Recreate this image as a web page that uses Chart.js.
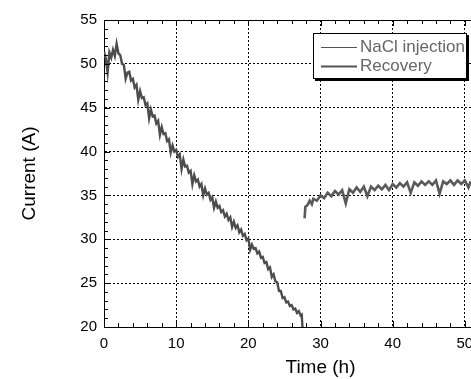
<!DOCTYPE html>
<html>
<head>
<meta charset="utf-8">
<script src="https://cdn.jsdelivr.net/npm/chart.js@4.4.1/dist/chart.umd.min.js"></script>
<style>
  html, body { margin: 0; padding: 0; background: #fff; overflow: hidden; }
  #wrap { width: 537px; height: 379px; }
</style>
</head>
<body>
<div id="wrap"><canvas id="chart" width="537" height="379"></canvas></div>
<script>
// NaCl injection run (h, A)
const naclTime = [
  0, 0.25, 0.5, 0.75, 1, 1.25, 1.5, 1.75, 2, 2.25, 2.5, 2.75, 3, 3.25, 3.5, 3.75,
  4, 4.25, 4.5, 4.75, 5, 5.25, 5.5, 5.75, 6, 6.25, 6.5, 6.75, 7, 7.25, 7.5, 7.75,
  8, 8.25, 8.5, 8.75, 9, 9.25, 9.5, 9.75, 10, 10.25, 10.5, 10.75, 11, 11.25, 11.5, 11.75,
  12, 12.25, 12.5, 12.75, 13, 13.25, 13.5, 13.75, 14, 14.25, 14.5, 14.75, 15, 15.25, 15.5, 15.75,
  16, 16.25, 16.5, 16.75, 17, 17.25, 17.5, 17.75, 18, 18.25, 18.5, 18.75, 19, 19.25, 19.5, 19.75,
  20, 20.25, 20.5, 20.75, 21, 21.25, 21.5, 21.75, 22, 22.25, 22.5, 22.75, 23, 23.25, 23.5, 23.75,
  24, 24.25, 24.5, 24.75, 25, 25.25, 25.5, 25.75, 26, 26.25, 26.5, 26.75, 27, 27.25, 27.4, 27.5
];
const naclCurrent = [
  51.4, 50.6, 49.0, 51.3, 50.7, 51.6, 50.9, 52.3, 51.2, 51.0, 50.0, 49.9, 48.3, 49.0, 49.1, 48.1,
  48.3, 47.3, 47.6, 45.9, 46.9, 46.1, 46.2, 45.3, 45.5, 43.8, 44.8, 44.0, 44.1, 43.2, 43.5, 41.9,
  42.8, 42.0, 42.1, 41.2, 41.4, 39.9, 40.7, 40.0, 40.2, 39.4, 39.7, 38.0, 39.1, 38.3, 38.4, 37.6,
  37.8, 36.3, 37.3, 36.6, 36.8, 36.0, 36.3, 35.0, 35.8, 35.1, 35.3, 34.5, 34.8, 33.6, 34.3, 33.6,
  33.8, 33.1, 33.3, 32.6, 32.9, 32.2, 32.5, 31.4, 32.0, 31.3, 31.6, 30.8, 31.1, 30.4, 30.6, 29.9,
  30.1, 28.8, 29.4, 28.9, 29.0, 28.4, 28.6, 27.9, 28.0, 27.3, 27.4, 26.6, 26.8, 25.7, 26.0, 25.2,
  25.1, 24.1, 24.1, 23.3, 23.4, 22.8, 22.9, 22.4, 22.5, 22.0, 22.1, 21.6, 21.8, 21.3, 21.4, 20.0
];

// Recovery run (h, A)
const recTime = [
  27.8, 27.9, 28.2, 28.5, 28.8, 29, 29.5, 30, 30.5, 31, 31.5, 32, 32.5, 33, 33.5, 34,
  34.5, 35, 35.5, 36, 36.5, 37, 37.5, 38, 38.5, 39, 39.5, 40, 40.5, 41, 41.5, 42,
  42.5, 43, 43.5, 44, 44.5, 45, 45.5, 46, 46.5, 47, 47.5, 48, 48.5, 49, 49.5, 50,
  50.5, 50.8
];
const recCurrent = [
  32.4, 33.7, 33.9, 34.4, 34.0, 34.6, 34.4, 35.0, 34.7, 35.3, 34.9, 35.5, 35.1, 35.6, 34.1, 35.7,
  35.3, 35.9, 35.4, 36.0, 34.9, 36.0, 35.6, 36.1, 35.7, 36.2, 35.6, 36.3, 35.9, 36.4, 36.0, 36.5,
  35.3, 36.5, 36.1, 36.6, 36.2, 36.6, 36.2, 36.7, 35.2, 36.6, 36.3, 36.7, 36.2, 36.7, 36.3, 36.7,
  35.9, 36.6
];

const seriesNames = ['NaCl injection', 'Recovery'];
const xTicks = [0, 10, 20, 30, 40, 50, 60];
const yTicks = [20, 25, 30, 35, 40, 45, 50, 55];

Chart.defaults.font.family = "'Liberation Sans', Arial, sans-serif";
Chart.defaults.color = '#000';

const toPoints = (xs, ys) => xs.map((x, i) => ({ x, y: ys[i] }));

// inward ticks + top frame line + boxed legend
const framePlugin = {
  id: 'frame',
  afterDatasetsDraw(chart) {
    const { ctx, chartArea: a, scales: { x, y } } = chart;
    ctx.save();
    ctx.strokeStyle = '#000';
    ctx.lineWidth = 1;
    ctx.beginPath();
    ctx.moveTo(a.left, a.top + 0.5);
    ctx.lineTo(a.right, a.top + 0.5);
    for (let v = 20; v <= 55; v += 1) {
      const py = Math.round(y.getPixelForValue(v)) + 0.5;
      const len = v % 5 === 0 ? 6 : 4;
      ctx.moveTo(a.left, py);
      ctx.lineTo(a.left + len, py);
    }
    for (let t = 0; t <= 60; t += 2) {
      const px = Math.round(x.getPixelForValue(t)) + 0.5;
      const len = t % 10 === 0 ? 6 : 4;
      ctx.moveTo(px, a.bottom);
      ctx.lineTo(px, a.bottom - len);
      ctx.moveTo(px, a.top);
      ctx.lineTo(px, a.top + len);
    }
    ctx.stroke();

    // legend box
    const bx = 313, by = 33, bw = 154, bh = 46;
    ctx.fillStyle = '#000';
    ctx.fillRect(bx + 2, by + 2, bw, bh);
    ctx.fillStyle = '#fff';
    ctx.fillRect(bx, by, bw, bh);
    ctx.strokeRect(bx + 0.5, by + 0.5, bw - 1, bh - 1);
    const rows = [
      { y: 47, w: 1, color: '#555' },
      { y: 66, w: 2, color: '#555' }
    ];
    ctx.font = "17px 'Liberation Sans', Arial, sans-serif";
    ctx.textBaseline = 'middle';
    rows.forEach((r, i) => {
      ctx.strokeStyle = r.color;
      ctx.lineWidth = r.w;
      ctx.beginPath();
      ctx.moveTo(321, r.y + 0.5);
      ctx.lineTo(357, r.y + 0.5);
      ctx.stroke();
      ctx.fillStyle = '#666';
      ctx.fillText(seriesNames[i], 360, r.y);
    });
    ctx.restore();
  }
};

new Chart(document.getElementById('chart'), {
  type: 'scatter',
  data: {
    datasets: [
      {
        label: seriesNames[0],
        data: toPoints(naclTime, naclCurrent),
        showLine: true,
        borderColor: '#4d4d4d',
        borderWidth: 2.4,
        pointRadius: 0
      },
      {
        label: seriesNames[1],
        data: toPoints(recTime, recCurrent),
        showLine: true,
        borderColor: '#5a5a5a',
        borderWidth: 2.6,
        pointRadius: 0
      }
    ]
  },
  options: {
    responsive: false,
    animation: false,
    layout: { padding: { top: 20, left: 0, right: 0, bottom: 0 } },
    plugins: {
      legend: { display: false },
      tooltip: { enabled: false }
    },
    scales: {
      x: {
        type: 'linear',
        min: 0,
        max: 60,
        afterBuildTicks: s => { s.ticks = xTicks.map(v => ({ value: v })); },
        afterFit: s => { s.height = 52; s.paddingLeft = 0; s.paddingRight = 0; },
        ticks: { font: { size: 15 }, padding: 8, maxRotation: 0 },
        grid: { color: '#000', lineWidth: 1, drawTicks: false },
        border: { display: true, color: '#000', width: 1, dash: [2, 2] },
        title: { display: true, text: 'Time (h)', font: { size: 19 }, padding: { top: 0, bottom: 0 } }
      },
      y: {
        type: 'linear',
        min: 20,
        max: 55,
        afterBuildTicks: s => { s.ticks = yTicks.map(v => ({ value: v })); },
        afterFit: s => { s.width = 104; s.paddingTop = 0; s.paddingBottom = 0; },
        ticks: { font: { size: 15 }, padding: 7 },
        grid: { color: '#000', lineWidth: 1, drawTicks: false },
        border: { display: true, color: '#000', width: 1, dash: [2, 2] },
        title: { display: true, text: 'Current (A)', font: { size: 19 }, padding: { top: 18, bottom: 0 } }
      }
    }
  },
  plugins: [framePlugin]
});
</script>
</body>
</html>
